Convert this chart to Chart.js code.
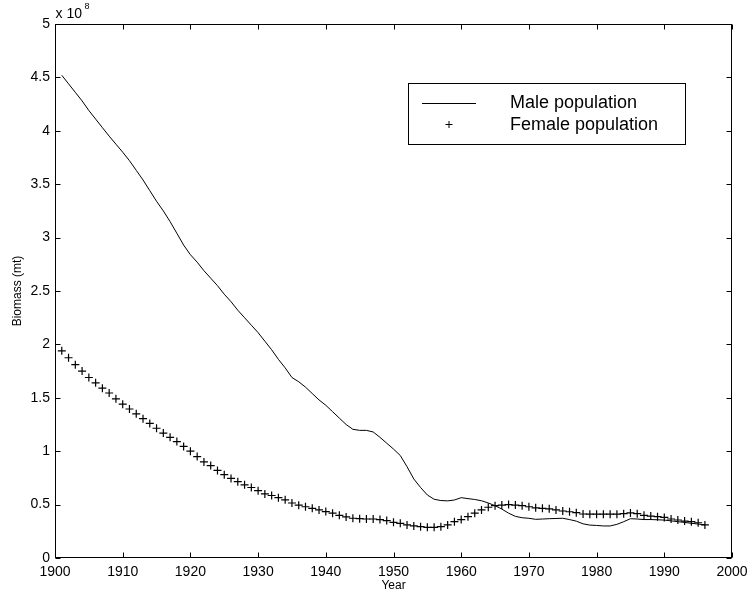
<!DOCTYPE html>
<html>
<head>
<meta charset="utf-8">
<script src="https://cdn.jsdelivr.net/npm/chart.js@4.4.1/dist/chart.umd.min.js"></script>
<style>
  html, body { margin: 0; padding: 0; background: #fff; }
  #wrap { width: 747px; height: 600px; }
</style>
</head>
<body>
<div id="wrap"><canvas id="biomass" width="747" height="600"></canvas></div>
<script>
const years = [
  1901, 1902, 1903, 1904, 1905, 1906, 1907, 1908, 1909, 1910,
  1911, 1912, 1913, 1914, 1915, 1916, 1917, 1918, 1919, 1920,
  1921, 1922, 1923, 1924, 1925, 1926, 1927, 1928, 1929, 1930,
  1931, 1932, 1933, 1934, 1935, 1936, 1937, 1938, 1939, 1940,
  1941, 1942, 1943, 1944, 1945, 1946, 1947, 1948, 1949, 1950,
  1951, 1952, 1953, 1954, 1955, 1956, 1957, 1958, 1959, 1960,
  1961, 1962, 1963, 1964, 1965, 1966, 1967, 1968, 1969, 1970,
  1971, 1972, 1973, 1974, 1975, 1976, 1977, 1978, 1979, 1980,
  1981, 1982, 1983, 1984, 1985, 1986, 1987, 1988, 1989, 1990,
  1991, 1992, 1993, 1994, 1995, 1996
]

// biomass in units of 10^8 mt
const maleBiomass = [
  4.52, 4.44, 4.36, 4.28, 4.19, 4.11, 4.03, 3.95, 3.875, 3.80,
  3.72, 3.63, 3.54, 3.44, 3.34, 3.25, 3.15, 3.04, 2.93, 2.84,
  2.77, 2.69, 2.62, 2.55, 2.47, 2.40, 2.32, 2.25, 2.18, 2.11,
  2.03, 1.95, 1.86, 1.78, 1.69, 1.65, 1.60, 1.54, 1.48, 1.43,
  1.37, 1.31, 1.25, 1.205, 1.195, 1.195, 1.18, 1.13, 1.075, 1.02,
  0.96, 0.855, 0.74, 0.66, 0.59, 0.55, 0.538, 0.535, 0.543, 0.565,
  0.556, 0.548, 0.536, 0.515, 0.49, 0.458, 0.42, 0.39, 0.377, 0.372,
  0.362, 0.365, 0.368, 0.37, 0.372, 0.36, 0.345, 0.32, 0.308, 0.305,
  0.30, 0.30, 0.315, 0.34, 0.368, 0.365, 0.36, 0.36, 0.358, 0.355,
  0.348, 0.34, 0.333, 0.325, 0.318, 0.31
]

const femaleBiomass = [
  1.94, 1.875, 1.81, 1.75, 1.69, 1.64, 1.59, 1.545, 1.49, 1.44,
  1.395, 1.35, 1.305, 1.26, 1.215, 1.17, 1.13, 1.09, 1.045, 1.00,
  0.95, 0.90, 0.865, 0.82, 0.78, 0.745, 0.715, 0.685, 0.66, 0.63,
  0.60, 0.585, 0.565, 0.545, 0.515, 0.495, 0.48, 0.465, 0.45, 0.435,
  0.42, 0.40, 0.385, 0.372, 0.368, 0.365, 0.365, 0.36, 0.35, 0.334,
  0.325, 0.31, 0.30, 0.293, 0.287, 0.287, 0.293, 0.31, 0.34, 0.36,
  0.387, 0.42, 0.45, 0.475, 0.49, 0.496, 0.50, 0.496, 0.49, 0.48,
  0.47, 0.465, 0.46, 0.45, 0.44, 0.433, 0.424, 0.412, 0.41, 0.41,
  0.41, 0.41, 0.41, 0.415, 0.422, 0.415, 0.40, 0.393, 0.387, 0.38,
  0.365, 0.356, 0.346, 0.34, 0.33, 0.31
]

const seriesNames = [ 'Male population', 'Female population' ]
const fontFamily = '"Liberation Sans", Arial, Helvetica, sans-serif'

// MATLAB style box: frame on four sides, ticks pointing inward, exponent label, legend
const matlabBox = {
  id: 'matlabBox',
  afterDraw(chart) {
    const { ctx, chartArea: area, scales: { x, y } } = chart
    const L = Math.round(area.left) + 0.5
    const R = Math.round(area.right) - 0.5
    const T = Math.round(area.top) + 0.5
    const B = Math.round(area.bottom) - 0.5
    const tick = 5
    ctx.save()
    ctx.strokeStyle = '#000'
    ctx.lineWidth = 1
    ctx.strokeRect(L, T, R - L, B - T)
    ctx.beginPath()
    x.ticks.forEach(t => {
      const px = Math.round(x.getPixelForValue(t.value)) + 0.5
      ctx.moveTo(px, B); ctx.lineTo(px, B - tick)
      ctx.moveTo(px, T); ctx.lineTo(px, T + tick)
    })
    y.ticks.forEach(t => {
      const py = Math.round(y.getPixelForValue(t.value)) + 0.5
      ctx.moveTo(L, py); ctx.lineTo(L + tick, py)
      ctx.moveTo(R, py); ctx.lineTo(R - tick, py)
    })
    ctx.stroke()

    // exponent above the y axis
    ctx.fillStyle = '#000'
    ctx.textBaseline = 'alphabetic'
    ctx.textAlign = 'left'
    ctx.font = '14px ' + fontFamily
    ctx.fillText('x 10', L, 18)
    ctx.font = '9px ' + fontFamily
    ctx.fillText('8', L + 29, 9)

    // legend box
    const lx = 408.5, ly = 83.5, lw = 277, lh = 61
    ctx.fillStyle = '#fff'
    ctx.fillRect(lx, ly, lw, lh)
    ctx.strokeRect(lx, ly, lw, lh)
    ctx.beginPath()
    ctx.moveTo(422, 103.5); ctx.lineTo(476, 103.5)
    ctx.moveTo(445.5, 124.5); ctx.lineTo(452.5, 124.5)
    ctx.moveTo(449, 121); ctx.lineTo(449, 128)
    ctx.stroke()
    ctx.fillStyle = '#000'
    ctx.font = '18px ' + fontFamily
    ctx.textBaseline = 'middle'
    ctx.fillText(seriesNames[0], 510, 103)
    ctx.fillText(seriesNames[1], 510, 125)
    ctx.restore()
  }
}

let biomassChart = new Chart(document.querySelector('#biomass'), {
  type: 'line',
  plugins: [matlabBox],
  data: {
    datasets: [
      {
        label: seriesNames[0],
        data: years.map((yr, i) => ({ x: yr, y: maleBiomass[i] })),
        borderColor: '#000',
        borderWidth: 1,
        pointRadius: 0,
        tension: 0,
        fill: false
      },
      {
        label: seriesNames[1],
        data: years.map((yr, i) => ({ x: yr, y: femaleBiomass[i] })),
        showLine: false,
        pointStyle: 'cross',
        pointRadius: 4,
        pointHoverRadius: 4,
        pointBorderColor: '#000',
        pointBackgroundColor: '#000',
        pointBorderWidth: 1.2
      }
    ]
  },
  options: {
    responsive: false,
    animation: false,
    layout: {
      padding: { left: 0, right: 15, top: 24, bottom: 0 }
    },
    scales: {
      x: {
        type: 'linear',
        min: 1900,
        max: 2000,
        grid: { display: false, drawTicks: false },
        border: { display: false },
        ticks: {
          stepSize: 10,
          padding: 6,
          color: '#000',
          font: { family: fontFamily, size: 14 },
          callback: value => String(value)
        },
        title: {
          display: true,
          text: 'Year',
          color: '#000',
          font: { family: fontFamily, size: 12 },
          padding: { top: 0, bottom: 7 }
        },
        afterFit(scale) {
          scale.height = 42
          scale.paddingLeft = 0
          scale.paddingRight = 0
        }
      },
      y: {
        min: 0,
        max: 5,
        grid: { display: false, drawTicks: false },
        border: { display: false },
        ticks: {
          stepSize: 0.5,
          padding: 5,
          color: '#000',
          font: { family: fontFamily, size: 14 },
          callback: value => String(Math.round(value * 10) / 10)
        },
        title: {
          display: true,
          text: 'Biomass (mt)',
          color: '#000',
          font: { family: fontFamily, size: 12 },
          padding: { top: 10, bottom: 0 }
        },
        afterFit(scale) {
          scale.width = 55
          scale.paddingTop = 0
          scale.paddingBottom = 0
        }
      }
    },
    plugins: {
      legend: { display: false },
      tooltip: { enabled: false }
    }
  }
})
</script>
</body>
</html>
